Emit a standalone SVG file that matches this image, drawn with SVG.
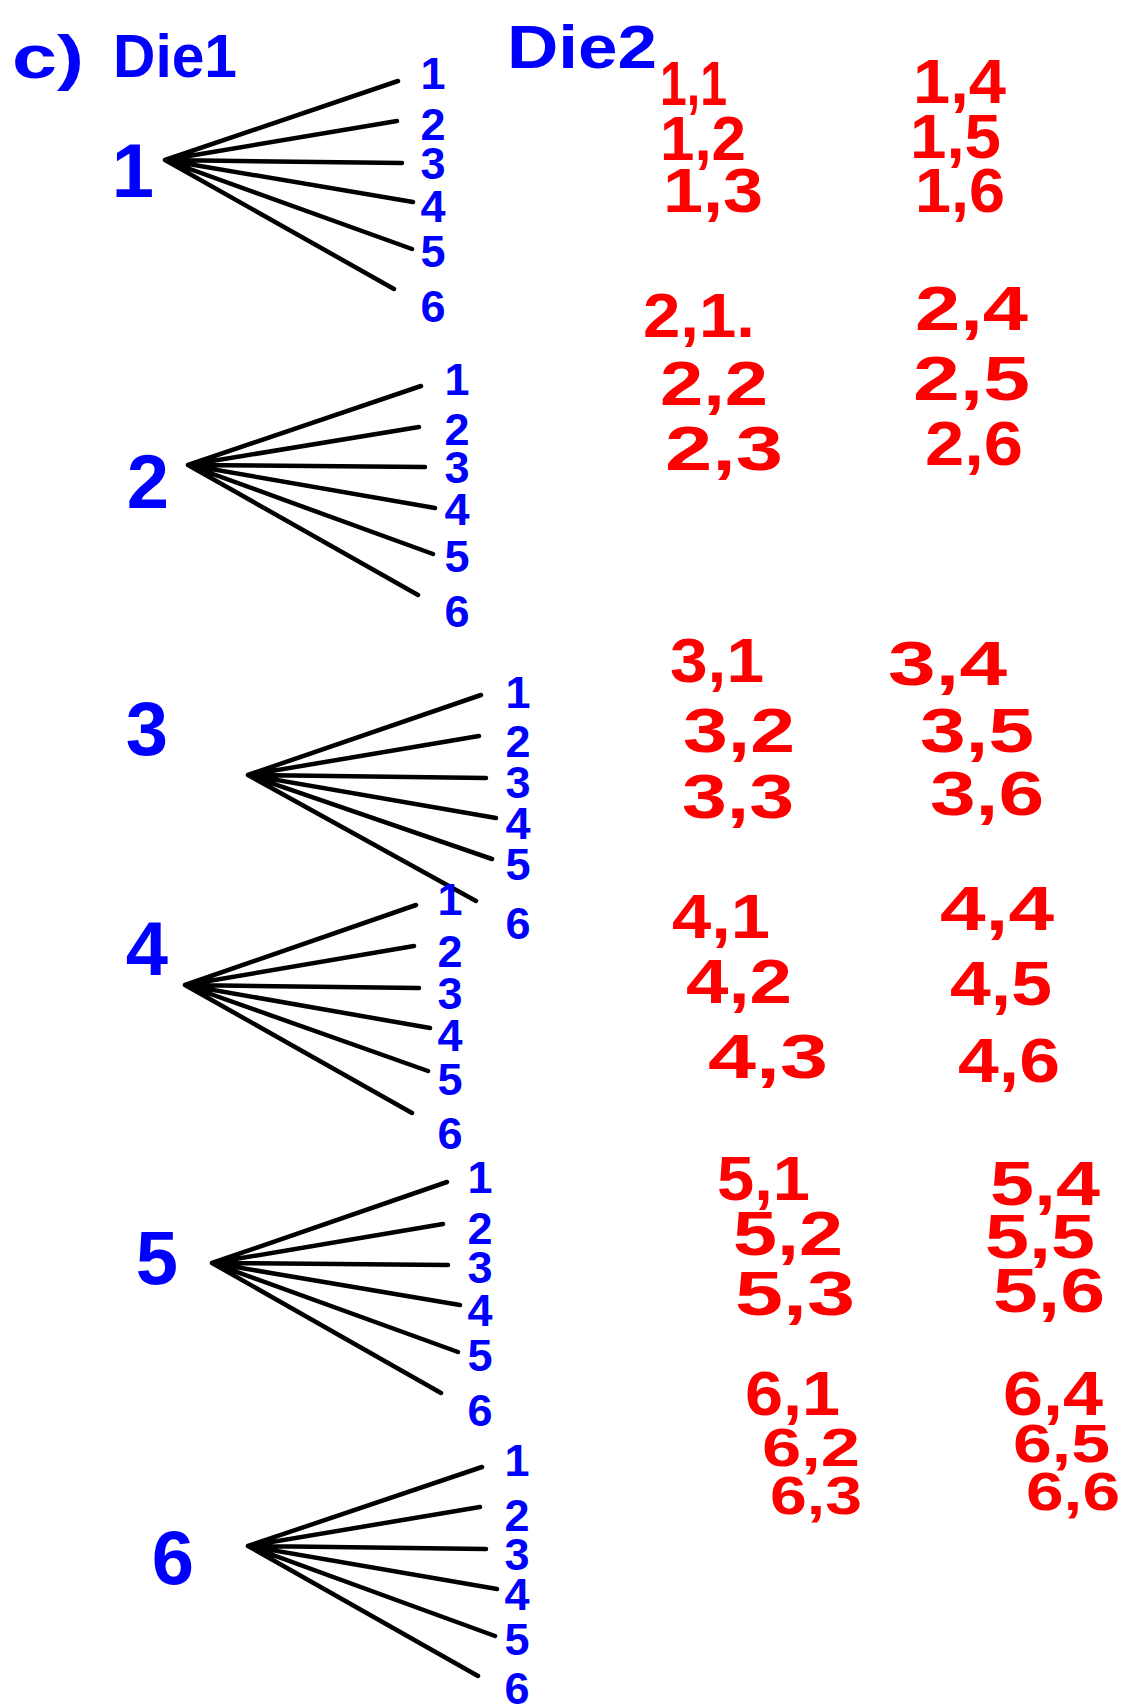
<svg xmlns="http://www.w3.org/2000/svg" width="1124" height="1708" viewBox="0 0 1124 1708">
<style>
.b{fill:#0000ff;font-family:"Liberation Sans",Arial,sans-serif;font-weight:bold;text-anchor:middle}
.h{fill:#0000ff;font-family:"Liberation Sans",Arial,sans-serif;font-weight:bold;font-size:62px}
.lf{font-size:45px}
.rt{font-size:76px}
.r{fill:#ff0000;font-family:"Liberation Sans",Arial,sans-serif;font-weight:bold;font-size:63px}
.s{font-size:54px}
.e{stroke:#000;stroke-width:4.5;stroke-linecap:round;fill:none}
</style>
<rect width="1124" height="1708" fill="#fff"/>
<g id="header">
<text class="h" x="12" y="78" textLength="72" lengthAdjust="spacingAndGlyphs">c)</text>
<text class="h" x="113" y="77" textLength="124" lengthAdjust="spacingAndGlyphs">Die1</text>
<text class="h" x="507" y="68" textLength="150" lengthAdjust="spacingAndGlyphs">Die2</text>
</g>
<g id="connectors">
<path class="e" d="M165,160L398,81M165,160L397,121M165,160L402,163M165,160L413,202M165,160L412,249M165,160L394,289"/>
<path class="e" d="M188,465L421,386M188,465L419,427M188,465L425,467M188,465L435,508M188,465L433,554M188,465L418,595"/>
<path class="e" d="M248,775L481,695M248,775L479,736M248,775L486,778M248,775L496,818M248,775L492,859M248,775L476,901"/>
<path class="e" d="M185,985L416,905M185,985L414,946M185,985L419,988M185,985L430,1028M185,985L428,1071M185,985L412,1113"/>
<path class="e" d="M212,1263L447,1182M212,1263L443,1224M212,1263L448,1265M212,1263L460,1305M212,1263L458,1352M212,1263L441,1393"/>
<path class="e" d="M248,1546L482,1467M248,1546L480,1507M248,1546L486,1549M248,1546L497,1589M248,1546L495,1636M248,1546L478,1676"/>
</g>
<g id="node-die1-1">
<text class="b rt" x="133" y="197">1</text>
<text class="b lf" x="433" y="89">1</text><text class="b lf" x="433" y="140">2</text><text class="b lf" x="433" y="179">3</text><text class="b lf" x="433" y="222">4</text><text class="b lf" x="433" y="267">5</text><text class="b lf" x="433" y="322">6</text>
</g>
<g id="node-die1-2">
<text class="b rt" x="148" y="508">2</text>
<text class="b lf" x="457" y="395">1</text><text class="b lf" x="457" y="445">2</text><text class="b lf" x="457" y="483">3</text><text class="b lf" x="457" y="525">4</text><text class="b lf" x="457" y="572">5</text><text class="b lf" x="457" y="627">6</text>
</g>
<g id="node-die1-3">
<text class="b rt" x="147" y="755">3</text>
<text class="b lf" x="518" y="708">1</text><text class="b lf" x="518" y="757">2</text><text class="b lf" x="518" y="798">3</text><text class="b lf" x="518" y="839">4</text><text class="b lf" x="518" y="880">5</text><text class="b lf" x="518" y="939">6</text>
</g>
<g id="node-die1-4">
<text class="b rt" x="147" y="975">4</text>
<text class="b lf" x="450" y="915">1</text><text class="b lf" x="450" y="967">2</text><text class="b lf" x="450" y="1009">3</text><text class="b lf" x="450" y="1051">4</text><text class="b lf" x="450" y="1095">5</text><text class="b lf" x="450" y="1149">6</text>
</g>
<g id="node-die1-5">
<text class="b rt" x="157" y="1284">5</text>
<text class="b lf" x="480" y="1193">1</text><text class="b lf" x="480" y="1244">2</text><text class="b lf" x="480" y="1283">3</text><text class="b lf" x="480" y="1326">4</text><text class="b lf" x="480" y="1371">5</text><text class="b lf" x="480" y="1426">6</text>
</g>
<g id="node-die1-6">
<text class="b rt" x="173" y="1584">6</text>
<text class="b lf" x="517" y="1476">1</text><text class="b lf" x="517" y="1531">2</text><text class="b lf" x="517" y="1570">3</text><text class="b lf" x="517" y="1610">4</text><text class="b lf" x="517" y="1655">5</text><text class="b lf" x="517" y="1704">6</text>
</g>
<g id="outcomes-1">
<text class="r" x="660" y="105" textLength="67" lengthAdjust="spacingAndGlyphs">1,1</text>
<text class="r" x="660" y="160" textLength="86" lengthAdjust="spacingAndGlyphs">1,2</text>
<text class="r" x="663" y="212" textLength="100" lengthAdjust="spacingAndGlyphs">1,3</text>
<text class="r" x="913" y="103" textLength="93" lengthAdjust="spacingAndGlyphs">1,4</text>
<text class="r" x="910" y="158" textLength="91" lengthAdjust="spacingAndGlyphs">1,5</text>
<text class="r" x="915" y="212" textLength="90" lengthAdjust="spacingAndGlyphs">1,6</text>
</g>
<g id="outcomes-2">
<text class="r" x="643" y="337" textLength="112" lengthAdjust="spacingAndGlyphs">2,1.</text>
<text class="r" x="660" y="405" textLength="108" lengthAdjust="spacingAndGlyphs">2,2</text>
<text class="r" x="665" y="470" textLength="118" lengthAdjust="spacingAndGlyphs">2,3</text>
<text class="r" x="915" y="330" textLength="113" lengthAdjust="spacingAndGlyphs">2,4</text>
<text class="r" x="913" y="400" textLength="117" lengthAdjust="spacingAndGlyphs">2,5</text>
<text class="r" x="925" y="465" textLength="98" lengthAdjust="spacingAndGlyphs">2,6</text>
</g>
<g id="outcomes-3">
<text class="r" x="670" y="682" textLength="94" lengthAdjust="spacingAndGlyphs">3,1</text>
<text class="r" x="683" y="752" textLength="112" lengthAdjust="spacingAndGlyphs">3,2</text>
<text class="r" x="682" y="818" textLength="112" lengthAdjust="spacingAndGlyphs">3,3</text>
<text class="r" x="888" y="685" textLength="119" lengthAdjust="spacingAndGlyphs">3,4</text>
<text class="r" x="920" y="752" textLength="114" lengthAdjust="spacingAndGlyphs">3,5</text>
<text class="r" x="930" y="815" textLength="114" lengthAdjust="spacingAndGlyphs">3,6</text>
</g>
<g id="outcomes-4">
<text class="r" x="672" y="938" textLength="98" lengthAdjust="spacingAndGlyphs">4,1</text>
<text class="r" x="686" y="1003" textLength="106" lengthAdjust="spacingAndGlyphs">4,2</text>
<text class="r" x="708" y="1078" textLength="120" lengthAdjust="spacingAndGlyphs">4,3</text>
<text class="r" x="940" y="930" textLength="114" lengthAdjust="spacingAndGlyphs">4,4</text>
<text class="r" x="950" y="1005" textLength="102" lengthAdjust="spacingAndGlyphs">4,5</text>
<text class="r" x="958" y="1082" textLength="102" lengthAdjust="spacingAndGlyphs">4,6</text>
</g>
<g id="outcomes-5">
<text class="r" x="717" y="1200" textLength="93" lengthAdjust="spacingAndGlyphs">5,1</text>
<text class="r" x="733" y="1255" textLength="110" lengthAdjust="spacingAndGlyphs">5,2</text>
<text class="r" x="735" y="1315" textLength="120" lengthAdjust="spacingAndGlyphs">5,3</text>
<text class="r" x="990" y="1205" textLength="110" lengthAdjust="spacingAndGlyphs">5,4</text>
<text class="r" x="985" y="1258" textLength="110" lengthAdjust="spacingAndGlyphs">5,5</text>
<text class="r" x="993" y="1312" textLength="112" lengthAdjust="spacingAndGlyphs">5,6</text>
</g>
<g id="outcomes-6">
<text class="r" x="745" y="1415" textLength="95" lengthAdjust="spacingAndGlyphs">6,1</text>
<text class="r s" x="762" y="1466" textLength="98" lengthAdjust="spacingAndGlyphs">6,2</text>
<text class="r s" x="770" y="1514" textLength="92" lengthAdjust="spacingAndGlyphs">6,3</text>
<text class="r" x="1003" y="1415" textLength="100" lengthAdjust="spacingAndGlyphs">6,4</text>
<text class="r s" x="1013" y="1462" textLength="97" lengthAdjust="spacingAndGlyphs">6,5</text>
<text class="r s" x="1026" y="1510" textLength="94" lengthAdjust="spacingAndGlyphs">6,6</text>
</g>
</svg>
